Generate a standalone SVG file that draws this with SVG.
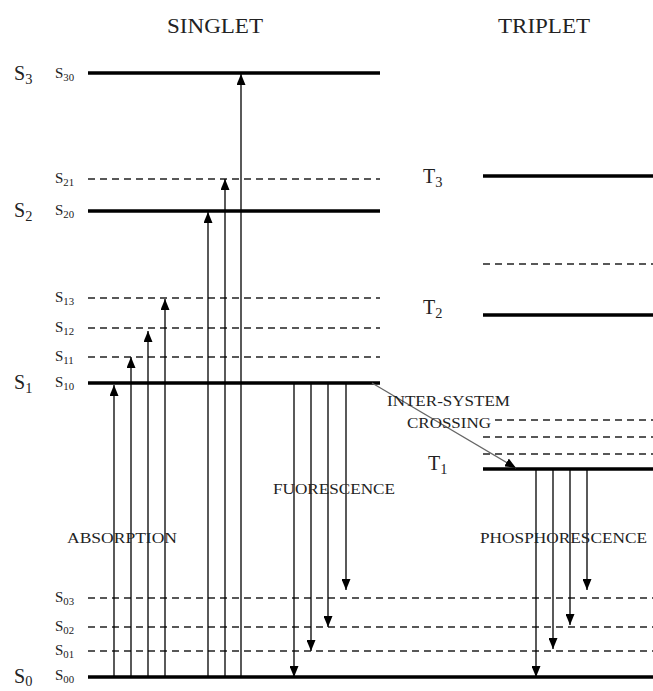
<svg xmlns="http://www.w3.org/2000/svg" width="653" height="691" viewBox="0 0 653 691">
<style>
text{font-family:"Liberation Serif","DejaVu Serif",serif;fill:#222}
.h{font-size:20px}
.big{font-size:20px}
.sm{font-size:15px}
.lab{font-size:15px}
.sub{font-size:72%}
.solid{stroke:#000;stroke-width:3.5;fill:none}
.dash{stroke:#222;stroke-width:1.6;stroke-dasharray:7,5;fill:none}
.arr{stroke:#000;stroke-width:1.3;fill:none;marker-end:url(#ah)}
.isc{stroke:#666;stroke-width:1.3;fill:none;marker-end:url(#ah)}
</style>
<defs>
<marker id="ah" viewBox="0 0 11 9" refX="11" refY="4.5" markerWidth="11" markerHeight="9" markerUnits="userSpaceOnUse" orient="auto">
<path d="M0,0 L11,4.5 L0,9 Z" fill="#000"/>
</marker>
</defs>
<rect width="653" height="691" fill="#fff"/>
<g id="headers">
<text class="h" x="215" y="33" text-anchor="middle" textLength="96" lengthAdjust="spacingAndGlyphs">SINGLET</text>
<text class="h" x="544" y="33" text-anchor="middle" textLength="92" lengthAdjust="spacingAndGlyphs">TRIPLET</text>
</g>
<g id="levels">
<g id="S30"><line class="solid" x1="88" y1="73" x2="380" y2="73"/><text class="big" x="14" y="80">S<tspan class="sub" dy="4">3</tspan></text><text class="sm" x="55" y="78">S<tspan class="sub" dy="3">30</tspan></text></g>
<g id="S21"><line class="dash" x1="88" y1="179" x2="380" y2="179"/><text class="sm" x="55" y="183">S<tspan class="sub" dy="3">21</tspan></text></g>
<g id="S20"><line class="solid" x1="88" y1="211" x2="380" y2="211"/><text class="big" x="14" y="217">S<tspan class="sub" dy="4">2</tspan></text><text class="sm" x="55" y="215">S<tspan class="sub" dy="3">20</tspan></text></g>
<g id="S13"><line class="dash" x1="88" y1="298" x2="380" y2="298"/><text class="sm" x="55" y="302">S<tspan class="sub" dy="3">13</tspan></text></g>
<g id="S12"><line class="dash" x1="88" y1="328" x2="380" y2="328"/><text class="sm" x="55" y="332">S<tspan class="sub" dy="3">12</tspan></text></g>
<g id="S11"><line class="dash" x1="88" y1="357" x2="380" y2="357"/><text class="sm" x="55" y="361">S<tspan class="sub" dy="3">11</tspan></text></g>
<g id="S10"><line class="solid" x1="88" y1="383" x2="380" y2="383"/><text class="big" x="14" y="389">S<tspan class="sub" dy="4">1</tspan></text><text class="sm" x="55" y="387">S<tspan class="sub" dy="3">10</tspan></text></g>
<g id="S03"><line class="dash" x1="88" y1="598" x2="653" y2="598"/><text class="sm" x="55" y="602">S<tspan class="sub" dy="3">03</tspan></text></g>
<g id="S02"><line class="dash" x1="88" y1="627" x2="653" y2="627"/><text class="sm" x="55" y="631">S<tspan class="sub" dy="3">02</tspan></text></g>
<g id="S01"><line class="dash" x1="88" y1="651" x2="653" y2="651"/><text class="sm" x="55" y="655">S<tspan class="sub" dy="3">01</tspan></text></g>
<g id="S00"><line class="solid" x1="88" y1="677" x2="653" y2="677"/><text class="big" x="14" y="683">S<tspan class="sub" dy="3">0</tspan></text><text class="sm" x="55" y="680">S<tspan class="sub" dy="3">00</tspan></text></g>
<g id="T3"><line class="solid" x1="483" y1="176" x2="653" y2="176"/><text class="big" x="423" y="183">T<tspan class="sub" dy="4">3</tspan></text></g>
<g id="T3v"><line class="dash" x1="483" y1="264" x2="653" y2="264"/></g>
<g id="T2"><line class="solid" x1="483" y1="315" x2="653" y2="315"/><text class="big" x="423" y="314">T<tspan class="sub" dy="4">2</tspan></text></g>
<g id="T1v3"><line class="dash" x1="495" y1="420" x2="653" y2="420"/></g>
<g id="T1v2"><line class="dash" x1="483" y1="437" x2="653" y2="437"/></g>
<g id="T1v1"><line class="dash" x1="483" y1="454" x2="653" y2="454"/></g>
<g id="T1"><line class="solid" x1="483" y1="469" x2="653" y2="469"/><text class="big" x="428" y="470">T<tspan class="sub" dy="4">1</tspan></text></g>
</g>
<g id="connectors">
<line class="arr" x1="114" y1="677" x2="114" y2="385"/>
<line class="arr" x1="131" y1="677" x2="131" y2="357"/>
<line class="arr" x1="148" y1="677" x2="148" y2="331"/>
<line class="arr" x1="165" y1="677" x2="165" y2="299"/>
<line class="arr" x1="208" y1="677" x2="208" y2="212"/>
<line class="arr" x1="225" y1="677" x2="225" y2="179"/>
<line class="arr" x1="241" y1="677" x2="241" y2="74"/>
<line class="arr" x1="294" y1="383" x2="294" y2="677"/>
<line class="arr" x1="311" y1="383" x2="311" y2="651"/>
<line class="arr" x1="328" y1="383" x2="328" y2="627"/>
<line class="arr" x1="346" y1="383" x2="346" y2="590"/>
<line class="isc" x1="372" y1="383" x2="516" y2="468"/>
<line class="arr" x1="536" y1="469" x2="536" y2="677"/>
<line class="arr" x1="553" y1="469" x2="553" y2="649"/>
<line class="arr" x1="570" y1="469" x2="570" y2="625"/>
<line class="arr" x1="587" y1="469" x2="587" y2="590"/>
</g>
<g id="labels">
<text class="lab" x="387" y="406" textLength="123" lengthAdjust="spacingAndGlyphs">INTER-SYSTEM</text>
<text class="lab" x="407" y="428" textLength="84" lengthAdjust="spacingAndGlyphs">CROSSING</text>
<text class="lab" x="273" y="494" textLength="122" lengthAdjust="spacingAndGlyphs">FUORESCENCE</text>
<text class="lab" x="67" y="543" textLength="110" lengthAdjust="spacingAndGlyphs">ABSORPTION</text>
<text class="lab" x="480" y="543" textLength="167" lengthAdjust="spacingAndGlyphs">PHOSPHORESCENCE</text>
</g>
</svg>
